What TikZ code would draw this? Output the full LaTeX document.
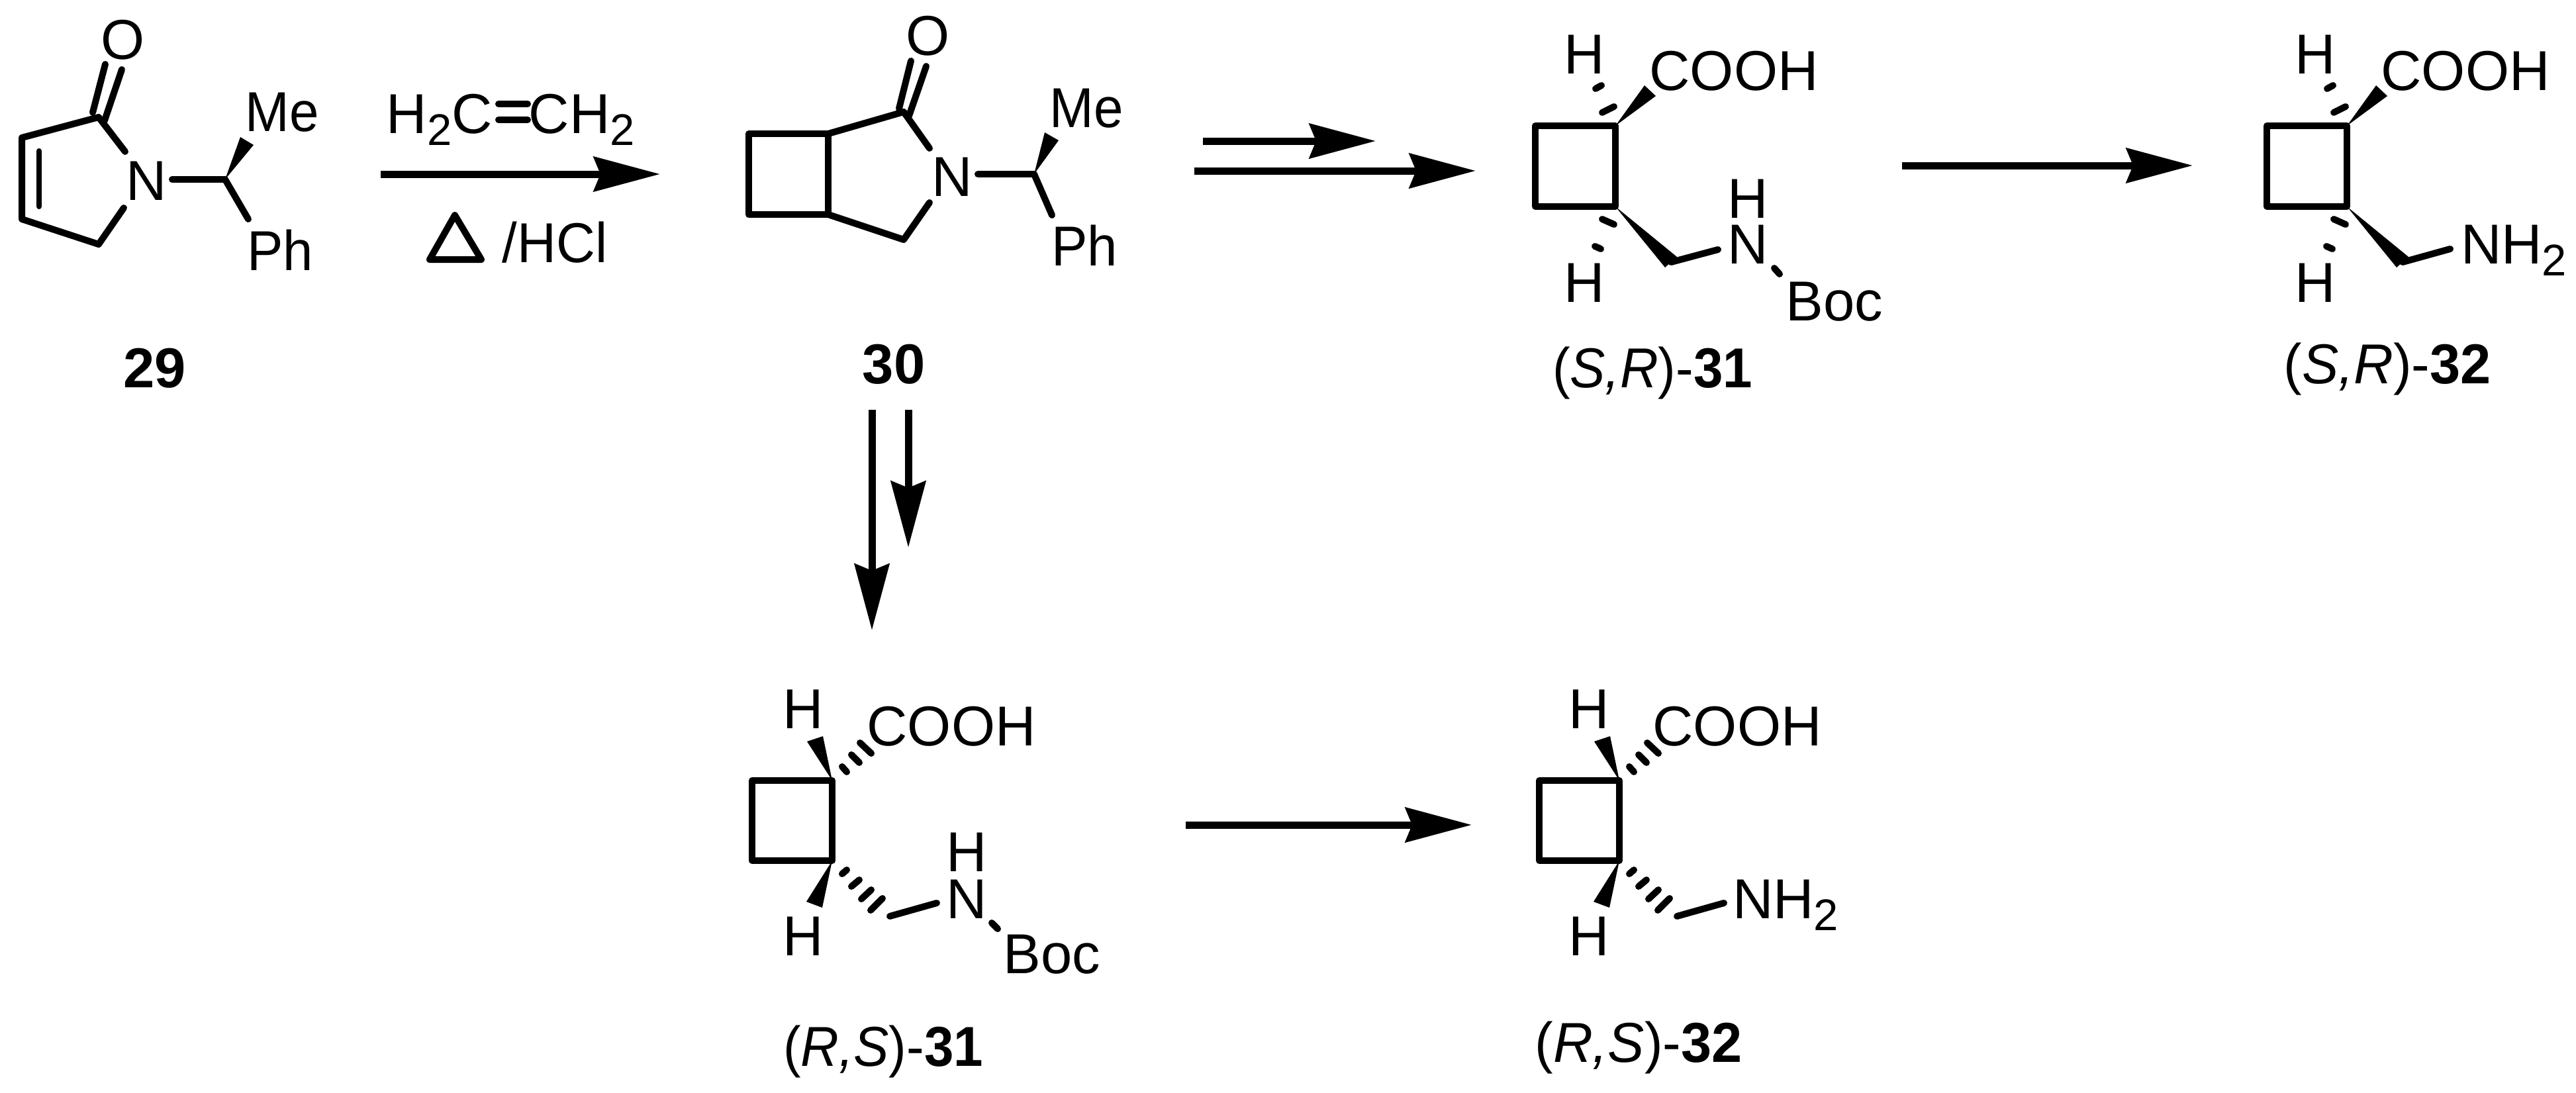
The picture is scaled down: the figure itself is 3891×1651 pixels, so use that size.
\documentclass[tikz,border=0pt]{standalone}
\usepackage{fontspec}
\setmainfont{Liberation Sans}
\usetikzlibrary{arrows.meta}
\newcommand\atomfont{\fontsize{85}{90}\selectfont}
\newcommand\subtwo{\raisebox{-18pt}{\fontsize{67}{70}\selectfont 2}}
\newcommand\narrow[1]{\scalebox{0.94}[1]{#1}}
\newcommand\slim[1]{\scalebox{0.975}[1]{#1}}
\tikzset{
  lab/.style={inner sep=0pt,anchor=base,font=\atomfont},
  bond/.style={line width=10pt,line cap=round,line join=round},
  thinbond/.style={line width=8pt,line cap=round},
  hashbond/.style={line width=10pt,line cap=round},
  wedgebond/.style={fill=black,draw=none},
  rxn/.style={line width=11pt,-{Stealth[length=100pt,width=52pt,inset=10pt]}},
}
% cis-cyclobutane, COOH on the hashed side (R,S); #1 right x, #2 top y, #3 prefix
\newcommand\rsring[3]{%
\begin{scope}[shift={(#1,#2)}]
  \coordinate (#3ct) at (0,0);
  \coordinate (#3cb) at (0,121);
  \coordinate (#3lt) at (-121,0);
  \coordinate (#3lb) at (-121,121);
  \draw[bond] (#3ct) -- (#3lt) -- (#3lb) -- (#3cb) -- cycle;
  \fill[wedgebond] (#3ct) -- (-38,-59) -- (-14,-67) -- cycle;
  \fill[wedgebond] (#3cb) -- (-39,183) -- (-15,192) -- cycle;
  \draw[hashbond] (15,-21) -- (22,-13);
  \draw[hashbond] (29,-39) -- (41,-27);
  \draw[hashbond] (42,-57) -- (59,-41);
  \draw[hashbond] (15,141) -- (22,135);
  \draw[hashbond] (29,160) -- (41,150);
  \draw[hashbond] (44,179) -- (59,165);
  \draw[hashbond] (58,196) -- (76,178);
  \coordinate (#3ch) at (87,205);
\end{scope}}
% cis-cyclobutane, COOH on the wedge side (S,R)
\newcommand\srring[3]{%
\begin{scope}[shift={(#1,#2)}]
  \coordinate (#3ct) at (0,0);
  \coordinate (#3cb) at (0,122);
  \coordinate (#3lt) at (-121,0);
  \coordinate (#3lb) at (-121,122);
  \draw[bond] (#3ct) -- (#3lt) -- (#3lb) -- (#3cb) -- cycle;
  \fill[wedgebond] (#3ct) -- (44,-61) -- (61,-45) -- cycle;
  \fill[wedgebond] (#3cb) -- (75,214) -- (93,198) -- cycle;
  \draw[hashbond] (-20,-20) -- (-2,-29);
  \draw[hashbond] (-30,-56) -- (-21,-61);
  \draw[hashbond] (-20,141) -- (-2,149);
  \draw[hashbond] (-31,182) -- (-22,186);
  \coordinate (#3ch) at (84,206);
\end{scope}}
\begin{document}
\begin{tikzpicture}[x=1pt,y=-1pt]
\useasboundingbox (0,0) rectangle (3891,1651);
% ---------- 29
\coordinate (aco) at (149,177);
\coordinate (atl) at (33,208);
\coordinate (abl) at (33,331);
\coordinate (ach) at (149,369);
\coordinate (acs) at (340,271);
\node[lab] (aO) at (186,90) {O};
\node[lab] (aN) at (221,302) {N};
\node[lab] (aMe) at (426,198) {\narrow{Me}};
\node[lab] (aPh) at (423,408) {\scalebox{0.96}[1]{Ph}};
\node[lab] (a29) at (234,585) {\textbf{29}};
\draw[bond] (189,229) -- (aco) -- (atl) -- (abl) -- (ach) -- (187,314);
\draw[bond] (140,170) -- (159,97);
\draw[bond] (158,182) -- (184,105);
\draw[thinbond] (59,228) -- (59,312);
\draw[bond] (260,271) -- (acs);
\fill[wedgebond] (acs) -- (363,207) -- (383,219) -- cycle;
\draw[bond] (acs) -- (375,331);
% ---------- reagents
\node[lab] (rA) at (664,201) {H\subtwo C};
\node[lab] (rB) at (879,201) {CH\subtwo};
\draw[line width=10pt,line cap=round] (753,157) -- (797,157);
\draw[line width=10pt,line cap=round] (753,181) -- (797,181);
\coordinate (ra) at (687,325);
\coordinate (rb) at (649,392);
\coordinate (rc) at (727,392);
\draw[line width=10pt,line join=round] (ra) -- (rb) -- (rc) -- cycle;
\node[lab] (rH) at (838,396) {\scalebox{0.96}[1]{/HCl}};
\coordinate (r1s) at (575,263);
\coordinate (r1e) at (997,263);
\draw[rxn] (r1s) -- (r1e);
% ---------- 30
\coordinate (brt) at (1251,202);
\coordinate (brb) at (1251,324);
\coordinate (blt) at (1131,202);
\coordinate (blb) at (1131,324);
\coordinate (bco) at (1365,169);
\coordinate (bch) at (1365,362);
\coordinate (bcs) at (1562,263);
\node[lab] (bO) at (1402,84) {O};
\node[lab] (bN) at (1438,296) {N};
\node[lab] (bMe) at (1641,192) {\narrow{Me}};
\node[lab] (bPh) at (1638,401) {\scalebox{0.96}[1]{Ph}};
\node[lab] (b30) at (1350,579) {\textbf{30}};
\draw[bond] (brt) -- (blt) -- (blb) -- (brb) -- cycle;
\draw[bond] (brt) -- (bco) -- (1404,224);
\draw[bond] (brb) -- (bch) -- (1404,306);
\draw[bond] (1358,164) -- (1376,92);
\draw[bond] (1373,175) -- (1399,100);
\draw[bond] (1477,263) -- (bcs);
\fill[wedgebond] (bcs) -- (1578,200) -- (1599,212) -- cycle;
\draw[bond] (bcs) -- (1589,325);
% ---------- arrows 30 -> (S,R)-31
\coordinate (r2s) at (1817,213);
\coordinate (r2e) at (2078,213);
\coordinate (r3s) at (1804,258);
\coordinate (r3e) at (2229,258);
\draw[rxn] (r2s) -- (r2e);
\draw[rxn] (r3s) -- (r3e);
% ---------- (S,R)-31
\srring{2440}{190}{c}
\node[lab] (cHa) at (2393,112) {H};
\node[lab] (cHb) at (2393,456) {H};
\node[lab] (cA) at (2619,137) {COOH};
\node[lab] (cN) at (2640,398) {N};
\node[lab] (cH) at (2640,329) {H};
\node[lab] (cB) at (2771,484) {Boc};
\node[lab] (cL) at (2496,585) {\narrow{(\textit{S,R})-\textbf{31}}};
\coordinate (cne) at (2595,377);
\draw[bond] (cch) -- (cne);
\draw[bond] (2680,405) -- (2688,414);
% ---------- arrow to (S,R)-32
\coordinate (r4s) at (2873,250);
\coordinate (r4e) at (3312,250);
\draw[rxn] (r4s) -- (r4e);
% ---------- (S,R)-32
\srring{3545}{190}{d}
\node[lab] (dHa) at (3497,112) {H};
\node[lab] (dHb) at (3497,456) {H};
\node[lab] (dA) at (3724,137) {COOH};
\node[lab] (dN) at (3797,398) {NH\subtwo};
\node[lab] (dL) at (3606,579) {\slim{(\textit{S,R})-\textbf{32}}};
\coordinate (dne) at (3701,376);
\draw[bond] (dch) -- (dne);
% ---------- vertical arrows
\coordinate (r5s) at (1317,619);
\coordinate (r5e) at (1317,952);
\coordinate (r6s) at (1372,619);
\coordinate (r6e) at (1372,827);
\draw[rxn] (r5s) -- (r5e);
\draw[rxn] (r6s) -- (r6e);
% ---------- (R,S)-31
\rsring{1257}{1179}{e}
\node[lab] (eHa) at (1213,1100) {H};
\node[lab] (eHb) at (1213,1443) {H};
\node[lab] (eA) at (1437,1126) {COOH};
\node[lab] (eN) at (1460,1387) {N};
\node[lab] (eH) at (1460,1316) {H};
\node[lab] (eB) at (1589,1470) {Boc};
\node[lab] (eL) at (1334,1610) {\narrow{(\textit{R,S})-\textbf{31}}};
\coordinate (ene) at (1415,1364);
\draw[bond] (ech) -- (ene);
\draw[bond] (1498,1394) -- (1507,1403);
% ---------- arrow
\coordinate (r7s) at (1791,1246);
\coordinate (r7e) at (2223,1246);
\draw[rxn] (r7s) -- (r7e);
% ---------- (R,S)-32
\rsring{2446}{1179}{f}
\node[lab] (fHa) at (2400,1100) {H};
\node[lab] (fHb) at (2400,1443) {H};
\node[lab] (fA) at (2624,1126) {COOH};
\node[lab] (fN) at (2697,1387) {NH\subtwo};
\node[lab] (fL) at (2475,1604) {\slim{(\textit{R,S})-\textbf{32}}};
\coordinate (fne) at (2604,1364);
\draw[bond] (fch) -- (fne);
\end{tikzpicture}
\end{document}
